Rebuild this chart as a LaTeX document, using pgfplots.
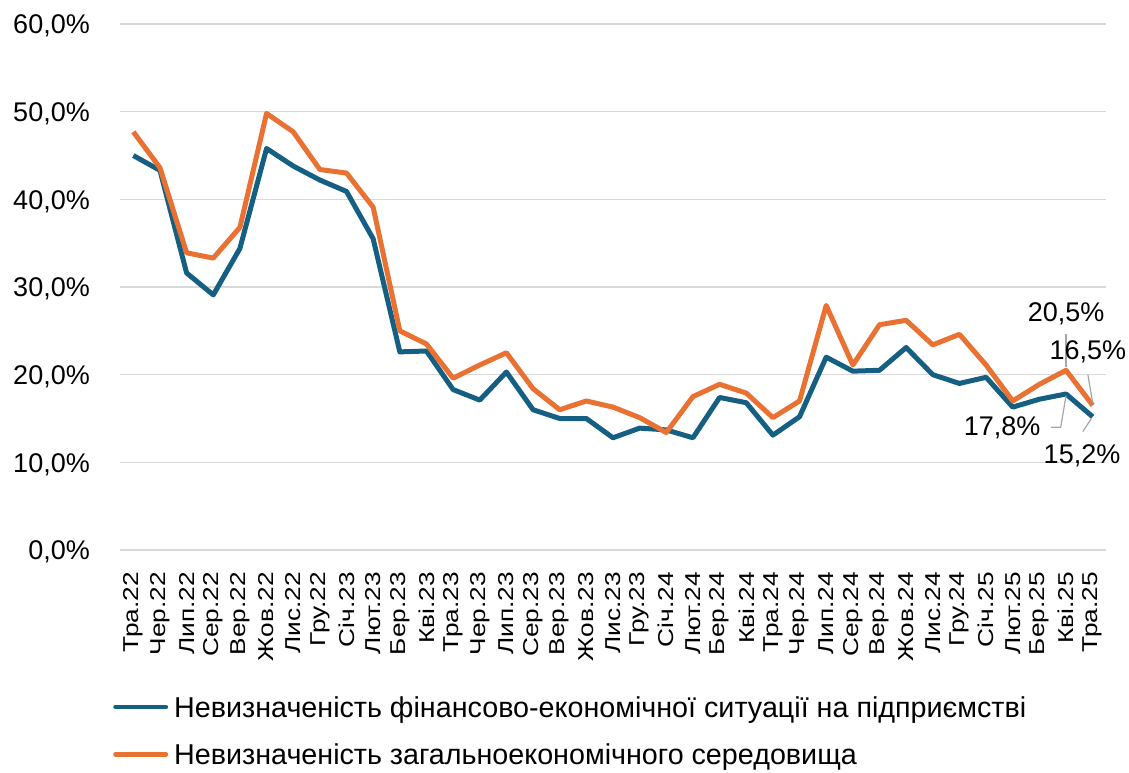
\documentclass[border=0pt]{standalone}
\usepackage{fontspec}
\setmainfont{Liberation Sans}
\newfontfamily\xfont[FakeStretch=1.22]{Liberation Sans}
\usepackage{pgfplots}
\pgfplotsset{compat=1.18}
\definecolor{cblue}{HTML}{156082}
\definecolor{corange}{HTML}{E97132}
\definecolor{cgrid}{HTML}{D9D9D9}
\definecolor{clead}{HTML}{A6A6A6}
\begin{document}
\begin{tikzpicture}
\begin{axis}[
  scale only axis, width=986pt, height=526pt,
  xmin=-0.5, xmax=36.5, ymin=0, ymax=60,
  clip=false,
  axis line style={draw=none},
  major tick length=0pt,
  ymajorgrids, grid style={cgrid, line width=1.5pt},
  ytick={0,10,20,30,40,50,60},
  yticklabels={{0,0\%},{10,0\%},{20,0\%},{30,0\%},{40,0\%},{50,0\%},{60,0\%}},
  yticklabel style={font=\fontsize{27}{30}\selectfont, anchor=base east, inner sep=0pt, xshift=-30pt, yshift=-9.7pt},
  xtick={0,...,36},
  xticklabels={Тра.22,Чер.22,Лип.22,Сер.22,Вер.22,Жов.22,Лис.22,Гру.22,Січ.23,Лют.23,Бер.23,Кві.23,Тра.23,Чер.23,Лип.23,Сер.23,Вер.23,Жов.23,Лис.23,Гру.23,Січ.24,Лют.24,Бер.24,Кві.24,Тра.24,Чер.24,Лип.24,Сер.24,Вер.24,Жов.24,Лис.24,Гру.24,Січ.25,Лют.25,Бер.25,Кві.25,Тра.25},
  xticklabel style={font=\xfont\fontsize{21.5}{22}\selectfont, yshift=-22pt, rotate=90, anchor=east, inner sep=0pt},
  legend style={at={(rel axis cs:0,0)}, anchor=north west, xshift=-7pt, yshift=-146pt,
    draw=none, fill=none, inner sep=0pt, row sep=25pt, column sep=6pt,
    font=\fontsize{28.7}{32}\selectfont,
    nodes={inner sep=0pt, anchor=base west}},
  legend cell align=left,
  legend image code/.code={\draw[#1, line width=4.5pt, line cap=round] (2.25pt,10pt) -- (52.75pt,10pt);},
]
\addplot[cblue, line width=5pt, line join=round] table[x=i, y=v] {
i v
0 45.0
1 43.3
2 31.6
3 29.1
4 34.4
5 45.8
6 43.8
7 42.2
8 40.9
9 35.5
10 22.6
11 22.7
12 18.3
13 17.1
14 20.3
15 16.0
16 15.0
17 15.0
18 12.8
19 13.9
20 13.7
21 12.8
22 17.4
23 16.8
24 13.1
25 15.2
26 22.0
27 20.4
28 20.5
29 23.1
30 20.0
31 19.0
32 19.7
33 16.3
34 17.2
35 17.8
36 15.2
};
\addlegendentry{Невизначеність фінансово-економічної ситуації на підприємстві}
\addplot[corange, line width=5pt, line join=round] table[x=i, y=v] {
i v
0 47.7
1 43.6
2 33.9
3 33.3
4 36.8
5 49.8
6 47.7
7 43.4
8 43.0
9 39.1
10 25.0
11 23.5
12 19.6
13 21.1
14 22.5
15 18.4
16 16.0
17 17.0
18 16.3
19 15.1
20 13.4
21 17.5
22 18.9
23 17.9
24 15.1
25 17.0
26 27.9
27 21.1
28 25.7
29 26.2
30 23.4
31 24.6
32 21.1
33 17.0
34 18.9
35 20.5
36 16.5
};
\addlegendentry{Невизначеність загальноекономічного середовища}
\draw[clead, line width=1.2pt] (axis cs:35.0,24.6) -- (axis cs:35.0,20.9);
\draw[clead, line width=1.2pt] (axis cs:34.43,14.0) -- (axis cs:34.8,14.0) -- (axis cs:35.0,17.6);
\draw[clead, line width=1.2pt] (axis cs:35.82,20.0) -- (axis cs:36.0,16.8);
\draw[clead, line width=1.2pt] (axis cs:35.63,13.5) -- (axis cs:35.95,15.0);
\node[font=\fontsize{27}{30}\selectfont, inner sep=0pt] at (axis cs:35.0,27.0) {20,5\%};
\node[font=\fontsize{27}{30}\selectfont, inner sep=0pt] at (axis cs:35.82,22.6) {16,5\%};
\node[font=\fontsize{27}{30}\selectfont, inner sep=0pt] at (axis cs:32.6,13.9) {17,8\%};
\node[font=\fontsize{27}{30}\selectfont, inner sep=0pt] at (axis cs:35.6,10.8) {15,2\%};
\end{axis}
\pgfresetboundingbox
\path[use as bounding box] (current axis.south west) ++(-120pt,-222pt) rectangle ++(1129pt,772pt);
\end{tikzpicture}
\end{document}
